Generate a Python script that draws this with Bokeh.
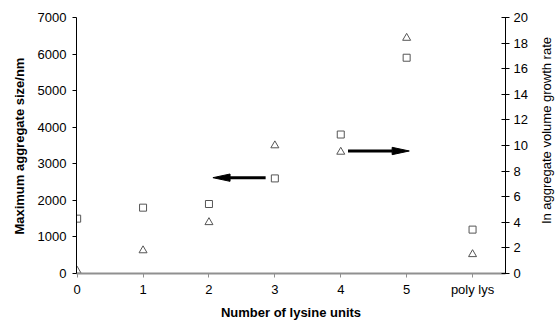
import math
from bokeh.plotting import figure
from bokeh.layouts import row
from bokeh.models import Range1d, LinearAxis, FixedTicker, Label
from bokeh.embed import file_html
from bokeh.resources import INLINE

# ---- data ----
x_pos = [0, 1, 2, 3, 4, 5, 6]
tick_labels = ["0", "1", "2", "3", "4", "5", "poly lys"]
max_size_nm = [1500, 1800, 1900, 2600, 3800, 5900, 1200]      # squares, left axis
ln_growth_rate = [0.2, 1.8, 4.0, 10.0, 9.5, 18.4, 1.5]        # triangles, right axis
left_ticks = [0, 1000, 2000, 3000, 4000, 5000, 6000, 7000]
right_ticks = [0, 2, 4, 6, 8, 10, 12, 14, 16, 18, 20]
x_title = "Number of lysine units"
left_title = "Maximum aggregate size/nm"
right_title = "ln aggregate volume growth rate"

# arrows (annotation): start x, tip x, y on left scale
arrow_left = (2.86, 2.06, 2620)
arrow_right = (4.11, 5.04, 3350)
head_len = 0.26      # in x data units
head_half = 100      # in left-axis units

FONT = "Liberation Sans"
H = 320

# ---------- main figure ----------
p = figure(width=500, height=H, output_backend="svg", toolbar_location=None,
           x_range=Range1d(-0.01, 6.5), y_range=Range1d(0, 7000),
           min_border_left=46, min_border_right=25, min_border_top=17,
           min_border_bottom=47, y_axis_location=None, x_axis_location=None)
p.frame_width = 429
p.frame_height = 256
p.outline_line_color = None
p.xgrid.visible = False
p.ygrid.visible = False
p.background_fill_color = "white"
p.border_fill_color = "white"
p.extra_y_ranges = {"right": Range1d(0, 20)}

# bottom axis
xax = LinearAxis(ticker=FixedTicker(ticks=x_pos))
xax.major_label_overrides = {i: t for i, t in enumerate(tick_labels)}
xax.axis_line_color = "#909090"
xax.axis_line_width = 2
xax.major_tick_line_color = "#909090"
xax.major_tick_in = 0
xax.major_tick_out = 4
xax.minor_tick_line_color = None
xax.major_label_standoff = 4
xax.major_label_text_font = FONT
xax.major_label_text_font_size = "13px"
xax.major_label_text_color = "#000000"
xax.axis_label = x_title
xax.axis_label_text_font = FONT
xax.axis_label_text_font_size = "13px"
xax.axis_label_text_font_style = "bold"
xax.axis_label_text_color = "#000000"
xax.axis_label_standoff = 5
p.add_layout(xax, "below")

# left axis
lax = LinearAxis(ticker=FixedTicker(ticks=left_ticks))
lax.axis_line_color = "#000000"
lax.major_tick_line_color = "#000000"
lax.major_tick_in = 0
lax.major_tick_out = 4
lax.minor_tick_line_color = None
lax.major_label_standoff = 6
lax.major_label_text_font = FONT
lax.major_label_text_font_size = "13px"
lax.major_label_text_color = "#000000"
p.add_layout(lax, "left")

# right axis
rax = LinearAxis(y_range_name="right", ticker=FixedTicker(ticks=right_ticks))
rax.axis_line_color = "#000000"
rax.major_tick_line_color = "#000000"
rax.major_tick_in = 4
rax.major_tick_out = 4
rax.minor_tick_line_color = None
rax.major_label_standoff = 4
rax.major_label_text_font = FONT
rax.major_label_text_font_size = "13px"
rax.major_label_text_color = "#000000"
p.add_layout(rax, "right")

# data marks
p.scatter(x_pos, max_size_nm, marker="square", size=7, fill_color=None,
          line_color="#555555", line_width=1)
p.scatter(x_pos, ln_growth_rate, marker="triangle", size=8, fill_color=None,
          line_color="#555555", line_width=1, y_range_name="right")

# arrows: thick shaft + slender solid head
for (xs, xt, yy) in (arrow_left, arrow_right):
    d = 1 if xt > xs else -1
    base = xt - d * head_len
    p.segment(x0=[xs], y0=[yy], x1=[base], y1=[yy], line_width=3, line_color="black")
    p.patch(x=[xt, base, base], y=[yy, yy + head_half, yy - head_half],
            fill_color="black", line_color="black", line_width=1)


def side_panel(width, title, cx, cy, bold):
    f = figure(width=width, height=H, output_backend="svg", toolbar_location=None,
               x_range=Range1d(0, width), y_range=Range1d(0, H),
               min_border=0, min_border_left=0, min_border_right=0,
               min_border_top=0, min_border_bottom=0,
               x_axis_location=None, y_axis_location=None)
    f.outline_line_color = None
    f.xgrid.visible = False
    f.ygrid.visible = False
    f.background_fill_color = "white"
    f.border_fill_color = "white"
    f.add_layout(Label(x=cx, y=cy, text=title, angle=math.pi / 2,
                       text_align="center", text_baseline="middle",
                       text_font=FONT, text_font_size="13px",
                       text_font_style="bold" if bold else "normal",
                       text_color="#000000"))
    return f


p_left = side_panel(30, left_title, 19, H - 162, True)
p_right = side_panel(29, right_title, 16, H - 142, False)

layout = row(p_left, p, p_right)
open("out.html", "w").write(file_html(layout, INLINE))
